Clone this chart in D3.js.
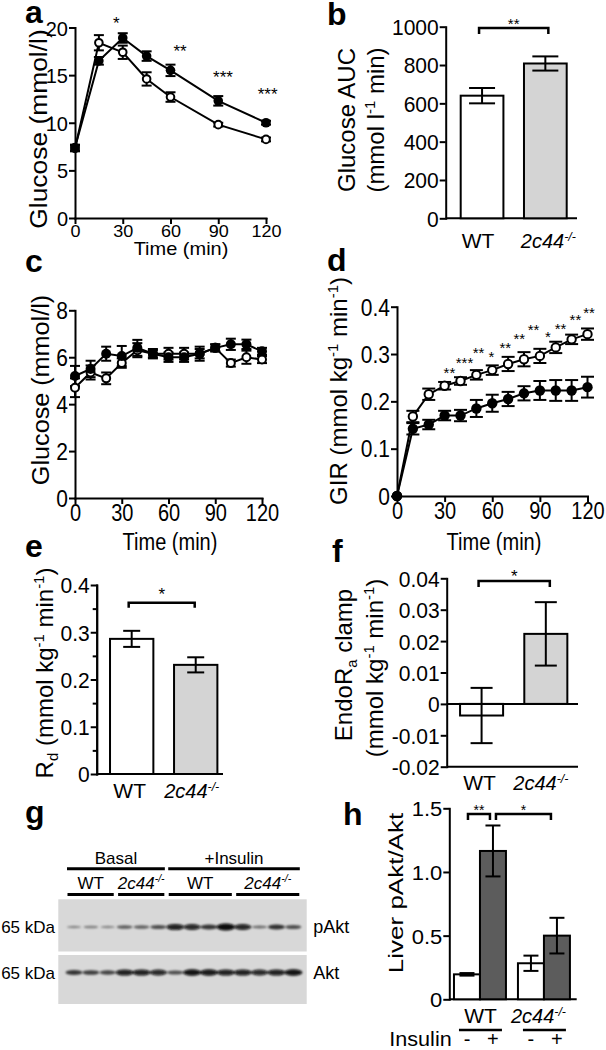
<!DOCTYPE html>
<html><head><meta charset="utf-8">
<script src="https://cdn.jsdelivr.net/npm/d3@7"></script>
<style>
html,body{margin:0;padding:0;background:#fff;}
svg{display:block;font-family:"Liberation Sans",Arial,Helvetica,sans-serif;}
</style></head><body>
<svg id="fig" width="606" height="1050"></svg>
<script>
// ================= DATA =================
// Panel a: glucose tolerance test
const timeA = [0, 15, 30, 45, 60, 90, 120];
const gttWT = [7.3, 18.4, 17.4, 14.6, 12.7, 9.8, 8.25];
const gttWTErr = [0.3, 0.8, 0.7, 0.7, 0.5, 0.2, 0.2];
const gttKO = [7.4, 16.5, 18.9, 17.0, 15.5, 12.3, 10.0];
const gttKOErr = [0.3, 0.4, 0.5, 0.5, 0.6, 0.5, 0.2];
const gttStarTimes = [26, 66, 93, 121];
const gttStarValues = [20.9, 18.0, 15.2, 13.4];
const gttStarLabels = ["*", "**", "***", "***"];
const yTicksA = [0, 5, 10, 15, 20];
const timeTicks = [0, 30, 60, 90, 120];

// Panel b: glucose AUC
const genotypes = ["WT", "2c44-/-"];
const aucValues = [640, 808];
const aucErr = [40, 37];
const yTicksB = [0, 200, 400, 600, 800, 1000];

// Panel c: clamp glucose
const timeC = [0, 10, 20, 30, 40, 50, 60, 70, 80, 90, 100, 110, 120];
const clampWT = [4.7, 5.35, 5.1, 5.75, 6.3, 6.15, 6.15, 6.15, 6.15, 6.4, 5.75, 6.0, 5.9];
const clampWTErr = [0.4, 0.3, 0.25, 0.2, 0.3, 0.2, 0.25, 0.25, 0.2, 0.15, 0.15, 0.28, 0.15];
const clampKO = [5.2, 5.5, 6.15, 6.05, 6.4, 6.15, 6.0, 6.0, 6.15, 6.4, 6.55, 6.55, 6.25];
const clampKOErr = [0.43, 0.35, 0.3, 0.43, 0.34, 0.15, 0.2, 0.2, 0.3, 0.15, 0.24, 0.2, 0.15];
const yTicksC = [0, 2, 4, 6, 8];

// Panel d: glucose infusion rate
const girWT = [0, 0.168, 0.215, 0.233, 0.243, 0.256, 0.266, 0.279, 0.289, 0.296, 0.314, 0.331, 0.342];
const girWTErr = [0, 0.012, 0.012, 0.008, 0.008, 0.01, 0.01, 0.015, 0.015, 0.015, 0.012, 0.01, 0.012];
const girKO = [0, 0.142, 0.151, 0.170, 0.170, 0.185, 0.196, 0.205, 0.217, 0.223, 0.223, 0.223, 0.230];
const girKOErr = [0, 0.012, 0.01, 0.01, 0.012, 0.018, 0.018, 0.015, 0.015, 0.02, 0.022, 0.022, 0.022];
const girStarTimes = [33, 42.5, 51.4, 59.4, 68.2, 77, 86, 95, 103, 112.4, 121];
const girStarValues = [0.268, 0.289, 0.310, 0.302, 0.321, 0.340, 0.358, 0.344, 0.361, 0.379, 0.395];
const girStarLabels = ["**", "***", "**", "*", "**", "**", "**", "*", "**", "**", "**"];
const yTicksD = [0, 0.1, 0.2, 0.3, 0.4];

// Panel e: Rd
const rdValues = [0.286, 0.231];
const rdErr = [0.017, 0.016];
const yTicksE = [0, 0.1, 0.2, 0.3, 0.4];
const yMinorE = [0.05, 0.15, 0.25, 0.35];

// Panel f: EndoRa clamp
const endoValues = [-0.0037, 0.0223];
const endoErr = [0.0088, 0.0101];
const yTicksF = [-0.02, -0.01, 0, 0.01, 0.02, 0.03, 0.04];

// Panel g: western blot band intensities (14 lanes)
const blotLanes = d3.range(14);
const blotGroups = [
  {label: "WT", first: 0, last: 2},
  {label: "2c44-/-", first: 3, last: 5},
  {label: "WT", first: 6, last: 9},
  {label: "2c44-/-", first: 10, last: 13}
];
const blotConditions = [{label: "Basal", first: 0, last: 5}, {label: "+Insulin", first: 6, last: 13}];
const pAktBands = [0.14, 0.18, 0.14, 0.4, 0.38, 0.5, 0.85, 0.8, 0.66, 1.0, 0.82, 0.3, 0.68, 0.5];
const aktBands = [0.66, 0.6, 0.56, 0.86, 0.86, 0.8, 0.5, 0.95, 0.9, 0.86, 0.86, 0.8, 0.86, 0.95];

// Panel h: liver pAkt/Akt
const insulinLevels = ["-", "+"];
const pAktWT = [0.196, 1.165];
const pAktWTErr = [0.01, 0.2];
const pAktKO = [0.283, 0.5];
const pAktKOErr = [0.06, 0.14];
const yTicksH = [0, 0.5, 1.0, 1.5];

// ================= HELPERS =================
const svg = d3.select('#fig');
svg.append('rect').attr('width', 606).attr('height', 1050).attr('fill', '#fff');
const KO = [{t: '2c44', i: true}, {t: '-/-', sup: true, i: true}];
const LIGHT = '#d4d4d4', DARK = '#5c5c5c';

function txt(g, x, y, parts, o = {}) {
  const F = o.size || 20, s = o.s || 1;
  const tr = o.rotate
    ? `translate(${x},${y}) rotate(${o.rotate}) scale(${s},1)`
    : `translate(${x},${y}) scale(${o.sx || 1},${s})`;
  const t = g.append('text').attr('transform', tr)
    .attr('text-anchor', o.anchor || 'middle')
    .attr('font-size', F).attr('fill', '#000');
  if (o.bold) t.attr('font-weight', 'bold');
  if (o.spacing) t.attr('letter-spacing', o.spacing);
  if (typeof parts === 'string') parts = [{t: parts}];
  let off = 0;
  parts.forEach(p => {
    let target = 0, fs = F;
    if (p.sup) { target = -0.36 * F; fs = 0.62 * F; }
    if (p.sub) { target = 0.2 * F; fs = 0.62 * F; }
    const ts = t.append('tspan').text(p.t).attr('font-size', fs);
    if (target - off !== 0) ts.attr('dy', target - off);
    if (p.i) ts.attr('font-style', 'italic');
    off = target;
  });
  return t;
}

function styleAxis(g, orient, F, s) {
  g.attr('font-family', null).attr('font-size', null);
  g.select('.domain').attr('stroke', '#000').attr('stroke-width', 2).attr('stroke-linecap', 'square');
  g.selectAll('.tick line').attr('stroke', '#000').attr('stroke-width', 2);
  g.selectAll('.tick text').attr('font-size', F).attr('fill', '#000').each(function () {
    const t = d3.select(this);
    if (orient === 'left') {
      const x = +t.attr('x');
      t.attr('x', 0).attr('dy', '0.36em').attr('transform', `translate(${x},0) scale(1,${s})`);
    } else {
      const y = +t.attr('y');
      t.attr('y', 0).attr('transform', `translate(0,${y}) scale(1,${s})`);
    }
  });
}

function fmtNum(dec) {
  return d => d === 0 ? '0' : d3.format('.' + dec + 'f')(d).replace('\u2212', '-');
}

function errBar(g, x, y1, y2, cap, w = 2) {
  g.append('line').attr('x1', x).attr('x2', x).attr('y1', y1).attr('y2', y2)
    .attr('stroke', '#000').attr('stroke-width', w);
  [y1, y2].forEach(yy => g.append('line').attr('x1', x - cap / 2).attr('x2', x + cap / 2)
    .attr('y1', yy).attr('y2', yy).attr('stroke', '#000').attr('stroke-width', w));
}

function stars(g, xs, ys, labels, F) {
  labels.forEach((l, i) => txt(g, xs[i], ys[i] + 0.59 * F, l, {size: F}));
}

function lineChart(g, x, y, times, wt, wtErr, ko, koErr, cap, r) {
  const line = d3.line().x((d, i) => x(times[i])).y(d => y(d));
  [[wt, wtErr], [ko, koErr]].forEach(([v, e]) => {
    g.append('path').datum(v).attr('d', line).attr('fill', 'none')
      .attr('stroke', '#000').attr('stroke-width', 2);
    v.forEach((d, i) => { if (e[i] > 0) errBar(g, x(times[i]), y(d + e[i]), y(d - e[i]), cap); });
  });
  g.selectAll(null).data(wt).join('circle').attr('cx', (d, i) => x(times[i])).attr('cy', d => y(d))
    .attr('r', r).attr('fill', '#fff').attr('stroke', '#000').attr('stroke-width', 2);
  g.selectAll(null).data(ko).join('circle').attr('cx', (d, i) => x(times[i])).attr('cy', d => y(d))
    .attr('r', r + 1).attr('fill', '#000');
}

function barChart(g, x, y, cats, vals, errs, fills, cap) {
  g.selectAll(null).data(cats).join('rect')
    .attr('x', d => x(d)).attr('width', x.bandwidth())
    .attr('y', (d, i) => Math.min(y(vals[i]), y(0)))
    .attr('height', (d, i) => Math.abs(y(vals[i]) - y(0)))
    .attr('fill', (d, i) => fills[i]).attr('stroke', '#000').attr('stroke-width', 2);
  cats.forEach((c, i) => errBar(g, x(c) + x.bandwidth() / 2, y(vals[i] + errs[i]), y(vals[i] - errs[i]), cap));
}

function bracket(g, x1, x2, yTop, drop, label, F, labelCenterY) {
  g.append('path').attr('d', `M${x1},${yTop + drop}V${yTop}H${x2}V${yTop + drop}`)
    .attr('fill', 'none').attr('stroke', '#000').attr('stroke-width', 2.5);
  txt(g, (x1 + x2) / 2, labelCenterY + 0.59 * F, label, {size: F});
}

function panelLetter(x, y, l) { txt(svg, x, y, l, {size: 32, bold: true, anchor: 'start'}); }

// ================= PANEL a =================
{
  const g = svg.append('g');
  const x = d3.scaleLinear().domain([0, 120]).range([75, 266]);
  const y = d3.scaleLinear().domain([0, 20]).range([218, 27.5]);
  g.append('g').attr('transform', `translate(0,${y(0)})`)
    .call(d3.axisBottom(x).tickValues(timeTicks).tickSize(6).tickPadding(1).tickSizeOuter(0))
    .call(styleAxis, 'bottom', 18, 0.92);
  g.append('g').attr('transform', `translate(${x(0)},0)`)
    .call(d3.axisLeft(y).tickValues(yTicksA).tickSize(6).tickPadding(1).tickSizeOuter(0))
    .call(styleAxis, 'left', 20, 1.05);
  lineChart(g, x, y, timeA, gttWT, gttWTErr, gttKO, gttKOErr, 10, 3.8);
  stars(g, gttStarTimes.map(x), gttStarValues.map(y), gttStarLabels, 17);
  txt(g, 47, 129, 'Glucose (mmol/l)', {size: 24, rotate: -90, s: 1.1});
  txt(g, 181, 255, 'Time (min)', {size: 20, s: 0.9});
  panelLetter(25, 23, 'a');
}

// ================= PANEL b =================
{
  const g = svg.append('g');
  const y = d3.scaleLinear().domain([0, 1000]).range([218.3, 26.7]);
  const x = d3.scaleBand().domain(genotypes).range([445.7, 581.7]).paddingInner(0.325).paddingOuter(0.237);
  g.append('g').attr('transform', 'translate(445.7,0)')
    .call(d3.axisLeft(y).tickValues(yTicksB).tickFormat(d3.format('d')).tickSize(6).tickPadding(1).tickSizeOuter(0))
    .call(styleAxis, 'left', 21, 1.05);
  g.append('line').attr('x1', 445.7).attr('x2', 577).attr('y1', y(0)).attr('y2', y(0))
    .attr('stroke', '#000').attr('stroke-width', 2);
  barChart(g, x, y, genotypes, aucValues, aucErr, ['#fff', LIGHT], 26);
  const c = d => x(d) + x.bandwidth() / 2;
  bracket(g, c(genotypes[0]) - 3, c(genotypes[1]) + 3, 28, 6, '**', 15, 20);
  txt(g, c(genotypes[0]) - 4, 248, 'WT', {size: 21});
  txt(g, c(genotypes[1]) + 3, 248, KO, {size: 20});
  txt(g, 355, 120, 'Glucose AUC', {size: 24, rotate: -90});
  txt(g, 384, 120, [{t: '(mmol l'}, {t: '-1', sup: true}, {t: ' min)'}], {size: 24, rotate: -90});
  panelLetter(327, 25, 'b');
}

// ================= PANEL c =================
{
  const g = svg.append('g');
  const x = d3.scaleLinear().domain([0, 120]).range([75, 262]);
  const y = d3.scaleLinear().domain([0, 8]).range([498, 310.3]);
  g.append('g').attr('transform', `translate(0,${y(0)})`)
    .call(d3.axisBottom(x).tickValues(timeTicks).tickSize(6).tickPadding(1).tickSizeOuter(0))
    .call(styleAxis, 'bottom', 20, 1.15);
  g.append('g').attr('transform', `translate(${x(0)},0)`)
    .call(d3.axisLeft(y).tickValues(yTicksC).tickSize(6).tickPadding(1).tickSizeOuter(0))
    .call(styleAxis, 'left', 21, 1.1);
  lineChart(g, x, y, timeC, clampWT, clampWTErr, clampKO, clampKOErr, 10, 4);
  txt(g, 49, 390, 'Glucose (mmol/l)', {size: 24, rotate: -90, s: 1.05});
  txt(g, 170, 550, 'Time (min)', {size: 20, s: 1.15});
  panelLetter(25, 272, 'c');
}

// ================= PANEL d =================
{
  const g = svg.append('g');
  const x = d3.scaleLinear().domain([0, 120]).range([397, 587.5]);
  const y = d3.scaleLinear().domain([0, 0.4]).range([496, 306.7]);
  g.append('g').attr('transform', `translate(0,${y(0)})`)
    .call(d3.axisBottom(x).tickValues(timeTicks).tickSize(6).tickPadding(1).tickSizeOuter(0))
    .call(styleAxis, 'bottom', 20, 1.15);
  g.append('g').attr('transform', `translate(${x(0)},0)`)
    .call(d3.axisLeft(y).tickValues(yTicksD).tickFormat(fmtNum(1)).tickSize(6).tickPadding(1).tickSizeOuter(0))
    .call(styleAxis, 'left', 21, 1.1);
  lineChart(g, x, y, timeC, girWT, girWTErr, girKO, girKOErr, 13, 4.2);
  stars(g, girStarTimes.map(x), girStarValues.map(y), girStarLabels, 15);
  txt(g, 347, 391, [{t: 'GIR (mmol kg'}, {t: '-1', sup: true}, {t: ' min'}, {t: '-1', sup: true}, {t: ')'}], {size: 24, rotate: -90});
  txt(g, 494, 550, 'Time (min)', {size: 20, s: 1.15});
  panelLetter(327, 271, 'd');
}

// ================= PANEL e =================
{
  const g = svg.append('g');
  const y = d3.scaleLinear().domain([0, 0.4]).range([774, 585]);
  const x = d3.scaleBand().domain(genotypes).range([96.7, 230.7]).paddingInner(0.323).paddingOuter(0.208);
  g.append('g').attr('transform', 'translate(96.7,0)')
    .call(d3.axisLeft(y).tickValues(yTicksE).tickFormat(fmtNum(1)).tickSize(6).tickPadding(1).tickSizeOuter(0))
    .call(styleAxis, 'left', 21, 1.05);
  g.append('g').attr('transform', 'translate(96.7,0)')
    .call(d3.axisLeft(y).tickValues(yMinorE).tickFormat('').tickSize(4).tickSizeOuter(0))
    .call(styleAxis, 'left', 21, 1);
  g.append('line').attr('x1', 96.7).attr('x2', 223).attr('y1', y(0)).attr('y2', y(0))
    .attr('stroke', '#000').attr('stroke-width', 2);
  barChart(g, x, y, genotypes, rdValues, rdErr, ['#fff', LIGHT], 17);
  const c = d => x(d) + x.bandwidth() / 2;
  bracket(g, c(genotypes[0]) - 3, c(genotypes[1]) - 1, 602.7, 5, '*', 17, 590);
  txt(g, c(genotypes[0]) - 2, 798, 'WT', {size: 21});
  txt(g, c(genotypes[1]) - 4, 798, KO, {size: 20});
  txt(g, 53, 673, [{t: 'R'}, {t: 'd', sub: true}, {t: ' (mmol kg'}, {t: '-1', sup: true}, {t: ' min'}, {t: '-1', sup: true}, {t: ')'}], {size: 24, rotate: -90});
  panelLetter(25, 557, 'e');
}

// ================= PANEL f =================
{
  const g = svg.append('g');
  const y = d3.scaleLinear().domain([-0.02, 0.04]).range([766.7, 578.3]);
  const x = d3.scaleBand().domain(genotypes).range([446.7, 580.7]).paddingInner(0.33).paddingOuter(0.208);
  g.append('g').attr('transform', 'translate(446.7,0)')
    .call(d3.axisLeft(y).tickValues(yTicksF).tickFormat(fmtNum(2)).tickSize(6).tickPadding(1).tickSizeOuter(0))
    .call(styleAxis, 'left', 21, 1.05);
  g.append('line').attr('x1', 446.7).attr('x2', 578).attr('y1', y(-0.02)).attr('y2', y(-0.02))
    .attr('stroke', '#000').attr('stroke-width', 2);
  barChart(g, x, y, genotypes, endoValues, endoErr, ['#fff', LIGHT], 22);
  g.append('line').attr('x1', 446.7).attr('x2', 578).attr('y1', y(0)).attr('y2', y(0))
    .attr('stroke', '#000').attr('stroke-width', 2);
  const c = d => x(d) + x.bandwidth() / 2;
  bracket(g, c(genotypes[0]) - 3, c(genotypes[1]) + 4, 581, 6, '*', 17, 571.7);
  txt(g, c(genotypes[0]) - 2, 790, 'WT', {size: 21});
  txt(g, c(genotypes[1]) - 5, 790, KO, {size: 20});
  txt(g, 352, 665, [{t: 'EndoR'}, {t: 'a', sub: true}, {t: ' clamp'}], {size: 24, rotate: -90});
  txt(g, 383, 668, [{t: '(mmol kg'}, {t: '-1', sup: true}, {t: ' min'}, {t: '-1', sup: true}, {t: ')'}], {size: 24, rotate: -90});
  panelLetter(332, 562, 'f');
}

// ================= PANEL g (blot) =================
{
  const g = svg.append('g');
  const defs = svg.append('defs');
  defs.append('filter').attr('id', 'blur').attr('x', '-50%').attr('y', '-100%').attr('width', '200%').attr('height', '300%')
    .append('feGaussianBlur').attr('stdDeviation', 1.1);
  const x = d3.scalePoint().domain(blotLanes).range([74, 293.3]);
  const panels = [{y0: 899.3, y1: 951.5, bandY: 927, vals: pAktBands, name: 'pAkt'},
                  {y0: 955, y1: 1004, bandY: 972.5, vals: aktBands, name: 'Akt'}];
  panels.forEach(p => {
    g.append('rect').attr('x', 58.3).attr('y', p.y0).attr('width', 248.4).attr('height', p.y1 - p.y0).attr('fill', '#d8d8d8');
    g.append('g').attr('filter', 'url(#blur)').selectAll('ellipse').data(p.vals).join('ellipse')
      .attr('cx', (d, i) => x(blotLanes[i])).attr('cy', p.bandY)
      .attr('rx', d => 7 + 2.2 * d).attr('ry', d => 0.8 + 2.6 * d)
      .attr('fill', '#080808').attr('opacity', d => 0.3 + 0.7 * d);
    txt(g, 55, p.bandY + 6.2, '65 kDa', {size: 17, anchor: 'end'});
    txt(g, 313.3, p.bandY + 6.2, p.name, {size: 18, anchor: 'start'});
  });
  blotGroups.forEach(b => {
    const x0 = x(b.first) - 6.5, x1 = x(b.last) + 6;
    g.append('line').attr('x1', x0).attr('x2', x1).attr('y1', 894.6).attr('y2', 894.6).attr('stroke', '#000').attr('stroke-width', 3);
    txt(g, (x0 + x1) / 2, 888.5, b.label === 'WT' ? 'WT' : KO, {size: 17});
  });
  blotConditions.forEach(b => {
    const x0 = x(b.first) - 7, x1 = x(b.last) + 6.5;
    g.append('line').attr('x1', x0).attr('x2', x1).attr('y1', 868.7).attr('y2', 868.7).attr('stroke', '#000').attr('stroke-width', 3);
    txt(g, (x0 + x1) / 2, 864, b.label, {size: 17});
  });
  panelLetter(25, 823, 'g');
}

// ================= PANEL h =================
{
  const g = svg.append('g');
  const y = d3.scaleLinear().domain([0, 1.5]).range([999.3, 808.3]);
  const x = d3.scaleBand().domain(genotypes).range([449.3, 574.6]).paddingInner(0.1875).paddingOuter(0.073);
  const xi = d3.scaleBand().domain(insulinLevels).range([0, x.bandwidth()]);
  g.append('g').attr('transform', 'translate(449.3,0)')
    .call(d3.axisLeft(y).tickValues(yTicksH).tickFormat(fmtNum(1)).tickSize(6).tickPadding(1).tickSizeOuter(0))
    .call(styleAxis, 'left', 22, 0.95);
  g.append('line').attr('x1', 449.3).attr('x2', 576.7).attr('y1', y(0)).attr('y2', y(0))
    .attr('stroke', '#000').attr('stroke-width', 2);
  const groups = [[genotypes[0], pAktWT, pAktWTErr], [genotypes[1], pAktKO, pAktKOErr]];
  groups.forEach(([gen, vals, errs]) => {
    const sub = g.append('g').attr('transform', `translate(${x(gen)},0)`);
    barChart(sub, xi, y, insulinLevels, vals, errs, ['#fff', DARK], 15);
  });
  const c = (gen, lvl) => x(gen) + xi(lvl) + xi.bandwidth() / 2;
  bracket(g, c(genotypes[0], '-') + 1, c(genotypes[0], '+') - 3, 814, 6, '**', 14, 806.7);
  bracket(g, c(genotypes[0], '+') + 3, c(genotypes[1], '+') - 6, 814, 6, '*', 14, 806.7);
  genotypes.forEach((gen, k) => {
    const x0 = x(gen) + 5, x1 = x(gen) + x.bandwidth() - 4;
    g.append('line').attr('x1', x0).attr('x2', x1).attr('y1', 1030).attr('y2', 1030).attr('stroke', '#000').attr('stroke-width', 2.5);
    txt(g, (x0 + x1) / 2 - 6 * k, 1023, k === 0 ? 'WT' : KO, {size: k === 0 ? 21 : 20});
    insulinLevels.forEach(l => txt(g, c(gen, l), 1046, l, {size: 20}));
  });
  txt(g, 451.7, 1046, 'Insulin', {size: 20, anchor: 'end', sx: 1.08});
  txt(g, 402.7, 893, 'Liver pAkt/Akt', {size: 20, rotate: -90, s: 1.3});
  panelLetter(343, 825, 'h');
}
</script>
</body></html>
